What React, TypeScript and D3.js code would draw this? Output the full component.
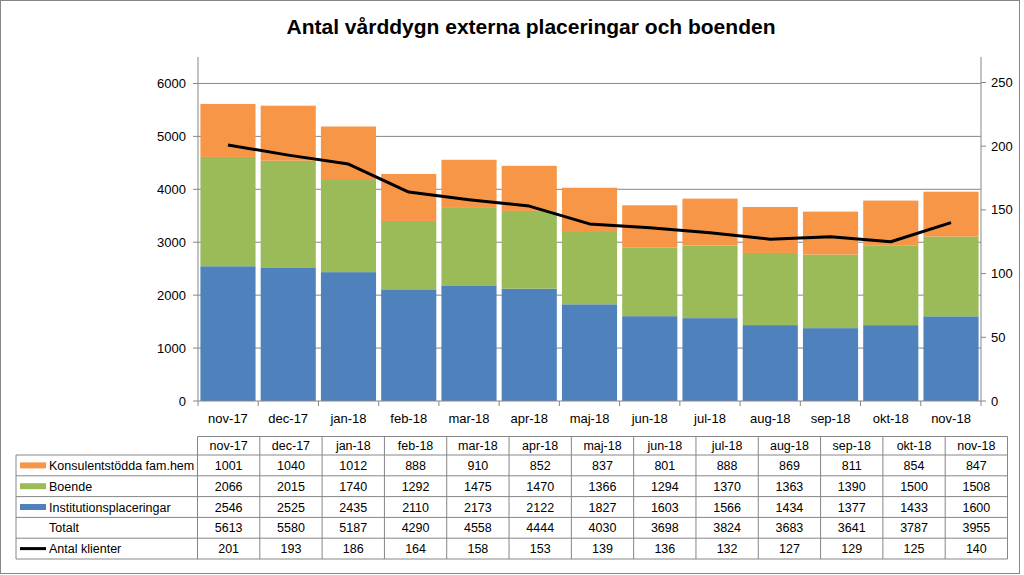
import * as d3 from 'd3';

const months = ['nov-17', 'dec-17', 'jan-18', 'feb-18', 'mar-18', 'apr-18', 'maj-18', 'jun-18', 'jul-18', 'aug-18', 'sep-18', 'okt-18', 'nov-18'];
const konsulent = [1001, 1040, 1012, 888, 910, 852, 837, 801, 888, 869, 811, 854, 847];
const boende = [2066, 2015, 1740, 1292, 1475, 1470, 1366, 1294, 1370, 1363, 1390, 1500, 1508];
const institution = [2546, 2525, 2435, 2110, 2173, 2122, 1827, 1603, 1566, 1434, 1377, 1433, 1600];
const totalt = [5613, 5580, 5187, 4290, 4558, 4444, 4030, 3698, 3824, 3683, 3641, 3787, 3955];
const klienter = [201, 193, 186, 164, 158, 153, 139, 136, 132, 127, 129, 125, 140];
const leftTicks = [0, 1000, 2000, 3000, 4000, 5000, 6000];
const rightTicks = [0, 50, 100, 150, 200, 250];

const W = 1024;
const H = 575;
const plot = { left: 198, right: 981, top: 57, bottom: 401 };
const font = '"Liberation Sans", Arial, sans-serif';
const grid = '#868686';
const colors = { konsulent: '#F79646', boende: '#9BBB59', institution: '#4F81BD' };

export default function App() {
  const x = d3.scaleBand<string>().domain(months).range([plot.left, plot.right]).paddingInner(0.085).paddingOuter(0.04);
  const step = (plot.right - plot.left) / months.length;
  const y = d3.scaleLinear().domain([0, 6500]).range([plot.bottom, plot.top]);
  const yR = d3.scaleLinear().domain([0, 270]).range([plot.bottom, plot.top]);

  const rows = months.map((m, i) => ({ m, institution: institution[i], boende: boende[i], konsulent: konsulent[i] }));
  const stack = d3.stack<any>().keys(['institution', 'boende', 'konsulent'])(rows);

  const line = d3.line<number>()
    .x((_, i) => (x(months[i]) || 0) + x.bandwidth() / 2)
    .y(d => yR(d));

  // data table has its own, slightly wider columns
  const tTop = 436.5;
  const headH = 18.5;
  const rowH = 20.8;
  const tLeft = 16;
  const tCols = d3.scaleLinear().domain([0, months.length]).range([197.5, 1007.5]);
  const colX = (i: number) => tCols(i);
  const tStep = tCols(1) - tCols(0);
  const tableRows = [
    { label: 'Konsulentstödda fam.hem', values: konsulent, swatch: colors.konsulent, kind: 'rect' },
    { label: 'Boende', values: boende, swatch: colors.boende, kind: 'rect' },
    { label: 'Institutionsplaceringar', values: institution, swatch: colors.institution, kind: 'rect' },
    { label: 'Totalt', values: totalt, swatch: 'none', kind: 'none' },
    { label: 'Antal klienter', values: klienter, swatch: '#000', kind: 'line' },
  ];
  const tBottom = tTop + headH + rowH * tableRows.length;
  const tRight = colX(months.length);

  return (
    <svg width={W} height={H} style={{ position: 'absolute', left: 0, top: 0, background: '#fff' }} fontFamily={font}>
      <rect x={0.5} y={0.5} width={W - 5} height={H - 2} fill="#fff" stroke={grid} />
      <text x={531} y={34} textAnchor="middle" fontSize={21} fontWeight="bold" fill="#000">
        Antal vårddygn externa placeringar och boenden
      </text>

      {/* gridlines */}
      {leftTicks.filter(t => t > 0).map(t => (
        <line key={t} x1={plot.left} x2={plot.right} y1={y(t)} y2={y(t)} stroke={grid} strokeWidth={1} />
      ))}

      {/* bars */}
      {stack.map(s => (
        <g key={s.key} fill={colors[s.key as keyof typeof colors]}>
          {s.map((d, i) => (
            <rect key={i} x={x(months[i])} y={y(d[1])} width={x.bandwidth()} height={y(d[0]) - y(d[1])} />
          ))}
        </g>
      ))}

      {/* line */}
      <path d={line(klienter) || ''} fill="none" stroke="#000" strokeWidth={3} strokeLinejoin="round" />

      {/* axes */}
      <line x1={plot.left} x2={plot.left} y1={plot.top} y2={plot.bottom} stroke={grid} />
      <line x1={plot.right} x2={plot.right} y1={plot.top} y2={plot.bottom} stroke={grid} />
      <line x1={plot.left} x2={plot.right} y1={plot.bottom} y2={plot.bottom} stroke={grid} />
      {leftTicks.map(t => (
        <g key={t}>
          <line x1={plot.left - 5} x2={plot.left} y1={y(t)} y2={y(t)} stroke={grid} />
          <text x={plot.left - 12} y={y(t) + 4.5} textAnchor="end" fontSize={13} fill="#000">{t}</text>
        </g>
      ))}
      {rightTicks.map(t => (
        <g key={t}>
          <line x1={plot.right} x2={plot.right + 5} y1={yR(t)} y2={yR(t)} stroke={grid} />
          <text x={plot.right + 10} y={yR(t) + 4.5} textAnchor="start" fontSize={13} fill="#000">{t}</text>
        </g>
      ))}
      {d3.range(months.length + 1).map(i => (
        <line key={i} x1={plot.left + i * step} x2={plot.left + i * step} y1={plot.bottom} y2={plot.bottom + 5} stroke={grid} />
      ))}
      {months.map(m => (
        <text key={m} x={(x(m) || 0) + x.bandwidth() / 2} y={plot.bottom + 22} textAnchor="middle" fontSize={13} fill="#000">{m}</text>
      ))}

      {/* data table */}
      <g stroke={grid} strokeWidth={1} fill="none">
        <line x1={colX(0)} x2={tRight} y1={tTop} y2={tTop} />
        {tableRows.map((_, r) => (
          <line key={r} x1={tLeft} x2={tRight} y1={tTop + headH + r * rowH} y2={tTop + headH + r * rowH} />
        ))}
        <line x1={tLeft} x2={tRight} y1={tBottom} y2={tBottom} />
        <line x1={tLeft} x2={tLeft} y1={tTop + headH} y2={tBottom} />
        {d3.range(months.length + 1).map(i => (
          <line key={i} x1={colX(i)} x2={colX(i)} y1={tTop} y2={tBottom} />
        ))}
      </g>
      {months.map((m, i) => (
        <text key={m} x={colX(i) + tStep / 2} y={tTop + headH / 2 + 4.5} textAnchor="middle" fontSize={12.5} fill="#000">{m}</text>
      ))}
      {tableRows.map((row, r) => {
        const cy = tTop + headH + r * rowH + rowH / 2;
        return (
          <g key={row.label}>
            {row.kind === 'rect' && <rect x={20} y={cy - 3} width={26} height={6} fill={row.swatch} />}
            {row.kind === 'line' && <line x1={20} x2={46} y1={cy} y2={cy} stroke="#000" strokeWidth={3} />}
            <text x={49} y={cy + 4.5} fontSize={12.5} fill="#000">{row.label}</text>
            {row.values.map((v, i) => (
              <text key={i} x={colX(i) + tStep / 2} y={cy + 4.5} textAnchor="middle" fontSize={12.5} fill="#000">{v}</text>
            ))}
          </g>
        );
      })}
    </svg>
  );
}
